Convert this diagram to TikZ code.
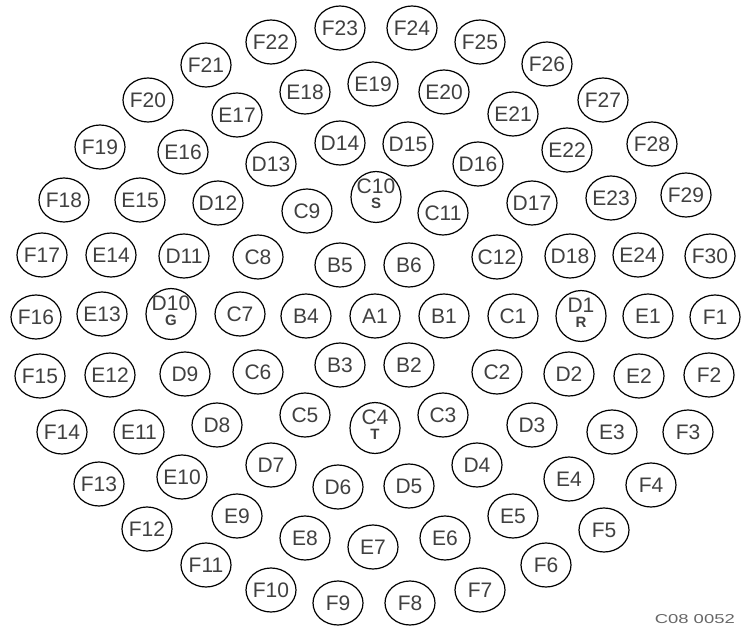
\documentclass[tikz,border=0pt]{standalone}
\usepackage{fontspec}
\usepackage{graphicx}
\setmainfont{Liberation Sans}
\usetikzlibrary{shapes.geometric}
\tikzset{
  pinbox/.style={draw=black, ellipse, line width=1.2pt, minimum width=50pt, minimum height=44pt,
    inner sep=0pt, text=black!75, font=\fontsize{21}{21}\selectfont},
  codetext/.style={text=black!60, inner sep=0pt, font=\fontsize{11}{11}\selectfont}
}
\newcommand{\pinlbl}[1]{\makebox[0pt]{#1}}
\newcommand{\pinsub}[2]{\makebox[0pt]{\begin{tabular}{@{}c@{}}#1\\[-6pt]{\bfseries\fontsize{15}{15}\selectfont #2}\end{tabular}}}
\begin{document}
\begin{tikzpicture}[x=1pt,y=-1pt]
\useasboundingbox (0,0) rectangle (741,628);
\foreach \n/\px/\py in {
 F23/340/28, F24/412/28, F22/271/42, F25/480/42, F21/206/65, F26/547/64,
 F20/148/100, F27/603/100, E18/305/92, E19/373/84, E20/444/92, E17/237/115, E21/513/114,
 F19/100/147, E16/183/152, D13/271/164, D14/340/143, D15/408/144, D16/478/164, E22/567/150, F28/652/144,
 F18/64/200, E15/140/200, D12/218/203, C9/307/211, C11/443/213, D17/532/203, E23/611/198, F29/686/195,
 F17/42/255, E14/111/255, D11/184/256, C8/258/257, B5/340/265, B6/409/265, C12/497/257, D18/570/256, E24/638/255, F30/710/256,
 F16/36/317, E13/102/314, C7/240/314, B4/306/316, A1/375/316, B1/444/316, C1/513/316, E1/648/316, F1/715/317,
 F15/40/376, E12/110/375, D9/185/374, C6/258/372, B3/340/365, B2/409/365, C2/497/372, D2/569/374, E2/639/376, F2/709/375,
 F14/62/432, E11/139/432, D8/217/425, C5/305/415, C3/443/415, D3/532/425, E3/612/432, F3/688/432,
 F13/99/484, E10/182/477, D7/271/465, D6/338/487, D5/409/486, D4/477/465, E4/569/479, F4/651/485,
 F12/147/529, E9/237/516, E8/305/538, E7/373/547, E6/445/538, E5/513/516, F5/604/530,
 F11/206/565, F10/271/590, F9/338/603, F8/410/603, F7/480/590, F6/546/565}
 {\node[pinbox] (\n) at (\px,\py) {\pinlbl{\n}};}
\node[pinbox] (C10) at (376,197) {\pinsub{C10}{S}};
\node[pinbox] (D10) at (171,314) {\pinsub{D10}{G}};
\node[pinbox] (D1) at (581,316) {\pinsub{D1}{R}};
\node[pinbox] (C4) at (375,428) {\pinsub{C4}{T}};
\node[codetext, anchor=east] (code) at (735,619) {\resizebox{80pt}{9pt}{C08 0052}};
\end{tikzpicture}
\end{document}
